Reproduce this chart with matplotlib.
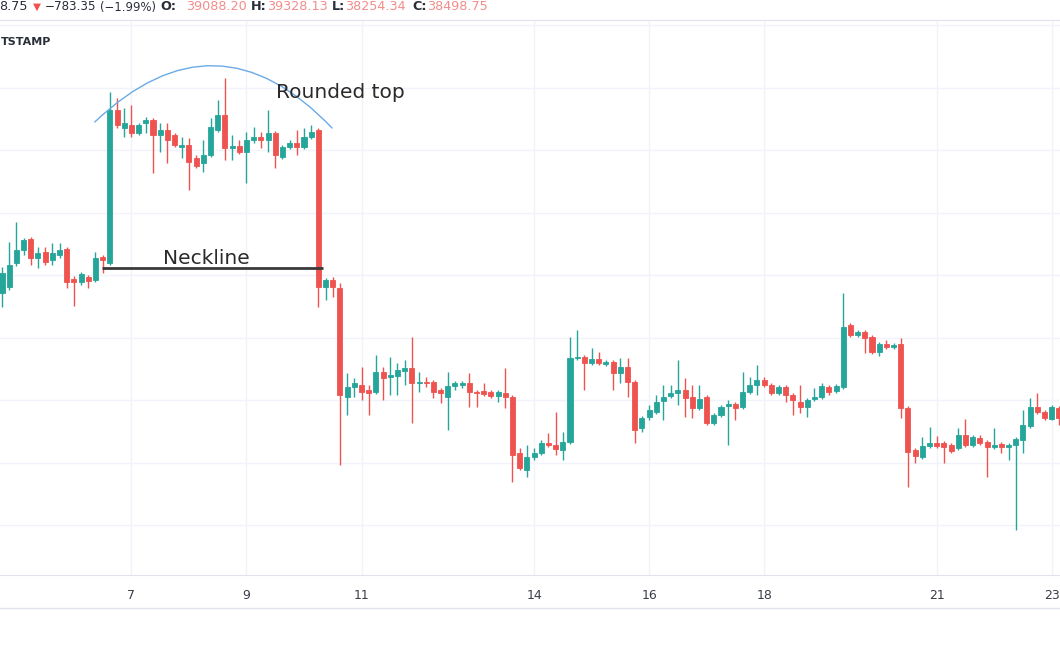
import numpy as np
import pandas as pd
import matplotlib
matplotlib.use("Agg")
import matplotlib.pyplot as plt
from matplotlib.lines import Line2D

# 3h candles (prices, BTC/USD)
opens = [39712, 39808, 40192, 40400, 40576, 40272, 40368, 40240, 40320, 40416,
         39936, 39888, 39968, 39920, 40288, 40192, 42640, 42352, 42400, 42272,
         42432, 42480, 42240, 42320, 42240, 42048, 42080, 41872, 41792, 41920,
         42320, 42560, 42032, 42064, 41968, 42160, 42208, 42160, 42272, 41888,
         42048, 42112, 42048, 42208, 42320, 39808, 39920, 39792, 38048, 38208,
         38240, 38160, 38128, 38448, 38368, 38384, 38464, 38512, 38272, 38288,
         38288, 38160, 38048, 38224, 38240, 38272, 38128, 38144, 38128, 38064,
         38112, 38048, 37152, 36880, 37088, 37152, 37312, 37280, 37200, 37328,
         38672, 38688, 38592, 38656, 38576, 38608, 38432, 38528, 38288, 37552,
         37728, 37808, 37984, 38064, 38112, 38160, 38048, 37872, 38048, 37632,
         37760, 37904, 37936, 37888, 38128, 38240, 38320, 38240, 38112, 38208,
         38080, 37968, 37888, 38016, 38048, 38208, 38144, 38208, 39200, 39040,
         39088, 39008, 38768, 38896, 38848, 38896, 37872, 37200, 37088, 37264,
         37312, 37312, 37280, 37232, 37440, 37280, 37392, 37328, 37248, 37296,
         37248, 37280, 37360, 37584, 37888, 37808, 37696, 37872]
closes = [40032, 40160, 40400, 40560, 40272, 40352, 40208, 40352, 40400, 39888,
          39888, 40016, 39904, 40272, 40240, 42640, 42400, 42432, 42272, 42400,
          42480, 42240, 42320, 42160, 42080, 42080, 41808, 41744, 41920, 42368,
          42560, 42032, 42064, 41968, 42160, 42208, 42160, 42272, 41920, 42048,
          42112, 42048, 42208, 42288, 39808, 39920, 39808, 38080, 38208, 38272,
          38128, 38112, 38448, 38352, 38400, 38480, 38512, 38272, 38288, 38272,
          38128, 38112, 38224, 38272, 38272, 38128, 38112, 38096, 38064, 38128,
          38048, 37120, 36912, 37088, 37152, 37312, 37280, 37216, 37328, 38672,
          38688, 38592, 38656, 38592, 38608, 38432, 38528, 38288, 37520, 37712,
          37840, 37968, 38048, 38112, 38160, 38032, 37872, 38016, 37632, 37760,
          37888, 37936, 37872, 38128, 38240, 38320, 38240, 38112, 38208, 38080,
          38000, 37888, 38000, 38048, 38224, 38128, 38224, 39168, 39040, 39088,
          38992, 38768, 38896, 38848, 38880, 37872, 37168, 37104, 37264, 37312,
          37264, 37248, 37184, 37440, 37280, 37408, 37312, 37248, 37280, 37248,
          37280, 37376, 37600, 37888, 37808, 37712, 37888, 37712]
highs = [40128, 40528, 40848, 40592, 40608, 40448, 40448, 40512, 40512, 40448,
         39984, 40048, 40000, 40368, 40320, 42928, 42832, 42672, 42720, 42432,
         42528, 42512, 42432, 42432, 42272, 42208, 42192, 41920, 42160, 42512,
         42800, 43152, 42240, 42160, 42288, 42368, 42288, 42640, 42304, 42080,
         42160, 42320, 42352, 42400, 42352, 39952, 39968, 39872, 38432, 38352,
         38528, 38240, 38720, 38528, 38688, 38592, 38640, 39008, 38448, 38368,
         38320, 38192, 38448, 38304, 38304, 38432, 38160, 38272, 38160, 38160,
         38512, 38080, 37232, 37280, 37232, 37360, 37472, 37808, 37488, 39008,
         39120, 38720, 38832, 38768, 38640, 38640, 38672, 38672, 38320, 37744,
         37920, 38080, 38240, 38240, 38640, 38352, 38240, 38240, 38080, 37792,
         37920, 38000, 37968, 38448, 38368, 38560, 38368, 38272, 38240, 38240,
         38112, 38240, 38032, 38192, 38272, 38240, 38256, 39712, 39232, 39120,
         39120, 39040, 38928, 38960, 38912, 38992, 37904, 37232, 37408, 37568,
         37424, 37344, 37312, 37552, 37696, 37440, 37440, 37360, 37552, 37328,
         37312, 37408, 37840, 38032, 38112, 37840, 37920, 37904]
lows = [39488, 39760, 40144, 40320, 40160, 40112, 40160, 40160, 40272, 39792,
        39504, 39840, 39792, 39888, 40032, 40160, 42352, 42208, 42208, 42240,
        42272, 41632, 41968, 41792, 42048, 41872, 41360, 41712, 41648, 41888,
        42288, 41840, 41840, 41936, 41472, 42112, 42032, 41968, 41712, 41856,
        42016, 41920, 42016, 42176, 39488, 39600, 39648, 36960, 37760, 38048,
        38000, 37760, 38096, 38000, 38080, 38080, 38240, 37632, 38128, 38208,
        38032, 37952, 37520, 38160, 38192, 37888, 37888, 38064, 38032, 37968,
        37872, 36688, 36880, 36768, 37040, 37120, 37248, 37120, 37040, 37296,
        38640, 38160, 38560, 38560, 38544, 38160, 38272, 38048, 37312, 37488,
        37680, 37776, 37680, 38032, 37920, 37728, 37712, 37840, 37600, 37600,
        37728, 37280, 37680, 37856, 38096, 38080, 38208, 38080, 38080, 37968,
        37760, 37792, 37728, 37984, 38016, 38080, 38112, 38176, 39008, 39008,
        38752, 38736, 38704, 38816, 38816, 37712, 36608, 36992, 37056, 37232,
        37232, 36992, 37152, 37200, 37248, 37248, 37280, 36768, 37216, 37152,
        37040, 35920, 37152, 37552, 37776, 37680, 37680, 37600]

label_days = [7, 9, 11, 14, 16, 18, 21, 23]
neckline_level = 40112

times = pd.date_range("2022-01-04 18:00", periods=len(opens), freq="3h")

o = np.array(opens)
c = np.array(closes)
h = np.array(highs)
l = np.array(lows)
x = np.arange(len(o))

up_col = "#26a69a"
down_col = "#ef5350"
cols = np.where(c >= o, up_col, down_col)

fig = plt.figure(figsize=(10.6, 6.5), dpi=100)
ax = fig.add_axes([0, 75 / 650, 1, 555 / 650])

ax.vlines(x, l, h, colors=cols, linewidth=1, zorder=2)
ax.bar(x, np.abs(c - o), bottom=np.minimum(o, c), width=0.7,
       color=cols, edgecolor=cols, linewidth=0.6, zorder=3)

ax.set_xlim(-0.28, 147.15)
ax.set_ylim(35200, 44080)

tick_pos = [i for i, t in enumerate(times) if t.hour == 0 and t.day in label_days]
ax.set_xticks(tick_pos)
ax.set_xticklabels([str(times[i].day) for i in tick_pos])
ax.set_yticks(np.arange(36000, 44001, 1000))
ax.tick_params(axis="x", length=0, pad=10, labelsize=9, labelcolor="#3b3e48")
ax.tick_params(axis="y", left=False, labelleft=False)
ax.grid(True, color="#f0f3fa", linewidth=1)
ax.set_axisbelow(True)
for s in ["left", "right"]:
    ax.spines[s].set_visible(False)
for s in ["top", "bottom"]:
    ax.spines[s].set_color("#e0e3eb")

# neckline and rounded top
ax.hlines(neckline_level, 13.9, 44.6, color="#3a3a3a", linewidth=2, zorder=4)
ax.text(28.4, 40272, "Neckline", fontsize=14.5, color="#2a2a2a",
        ha="center", va="center", zorder=5)
ax.annotate("", xy=(45.9, 42352), xytext=(12.9, 42448),
            arrowprops=dict(arrowstyle="-", connectionstyle="arc3,rad=-0.5",
                            color="#6aaae6", lw=1, shrinkA=0, shrinkB=0))
ax.text(47.1, 42912, "Rounded top", fontsize=14.5, color="#2a2a2a",
        ha="center", va="center", zorder=5)

# header line (cut at the left edge like the screenshot)
hy = 1 - 7 / 650
W = 1060
dark = "#2a2e39"
val = "#f28c8a"
fs = 9.2
fig.text(28 / W, hy, "8.75", ha="right", va="center", fontsize=fs, color=dark)
fig.text(33 / W, hy, "\u25bc", ha="left", va="center", fontsize=7.5, color=down_col)
fig.text(45 / W, hy, "\u2212783.35", ha="left", va="center", fontsize=8.6, color=dark)
fig.text(100 / W, hy, "(\u22121.99%)", ha="left", va="center", fontsize=8.4, color=dark)
for lab, lx, v, vx in [("O:", 160, "39088.20", 186), ("H:", 251, "39328.13", 267),
                       ("L:", 332, "38254.34", 345), ("C:", 412, "38498.75", 427)]:
    fig.text(lx / W, hy, lab, ha="left", va="center", fontsize=fs,
             fontweight="bold", color=dark)
    fig.text(vx / W, hy, v, ha="left", va="center", fontsize=fs, color=val)

fig.text(0.5 / W, 1 - 42 / 650, "TSTAMP", ha="left", va="center",
         fontsize=8, fontweight="bold", color=dark)

fig.add_artist(Line2D([0, 1], [1 - 608 / 650] * 2, color="#e0e3eb", lw=1))

fig.savefig("out.png", dpi=100)
